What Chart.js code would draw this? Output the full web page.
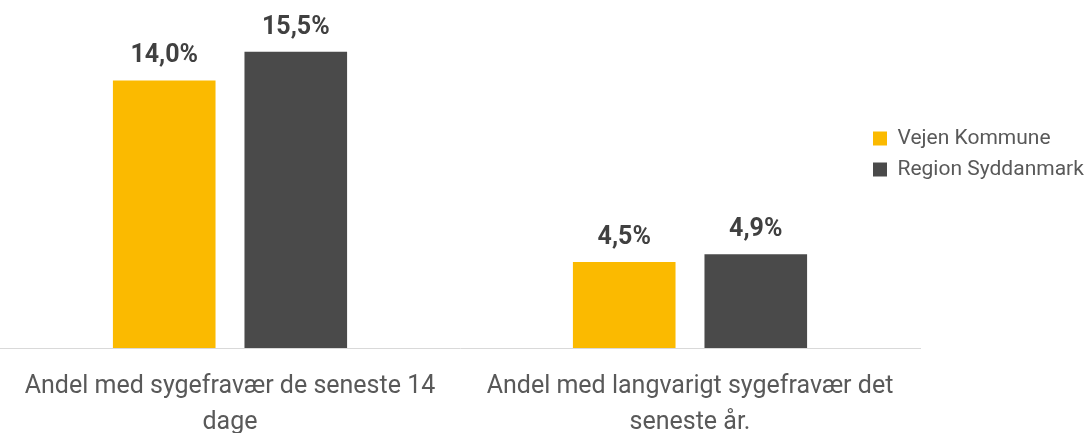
<!DOCTYPE html>
<html>
<head>
<meta charset="utf-8">
<script src="https://cdn.jsdelivr.net/npm/chart.js@4/dist/chart.umd.min.js"></script>
<style>
  html, body { margin: 0; padding: 0; background: #fff; }
  #wrap { width: 1088px; height: 433px; position: relative; }
</style>
</head>
<body>
<div id="wrap"><canvas id="chart"></canvas></div>
<script>
const categories = [
    ['Andel med sygefravær de seneste 14', 'dage'],
    ['Andel med langvarigt sygefravær det', 'seneste år.']
];
const seriesNames = ['Vejen Kommune', 'Region Syddanmark'];
const vejenValues = [14.0, 4.5];
const regionValues = [15.5, 4.9];

const colors = ['#FBBA00', '#4A4A4A'];

// value labels above each bar
const barLabels = {
    id: 'barLabels',
    afterDatasetsDraw(chart) {
        const ctx = chart.ctx;
        ctx.save();
        ctx.font = 'bold 25px Roboto';
        ctx.fillStyle = '#404040';
        ctx.textAlign = 'center';
        ctx.textBaseline = 'alphabetic';
        chart.data.datasets.forEach((ds, i) => {
            chart.getDatasetMeta(i).data.forEach((bar, j) => {
                const txt = ds.data[j].toFixed(1).replace('.', ',') + '%';
                ctx.fillText(txt, bar.x, bar.y - 18);
            });
        });
        ctx.restore();
    }
};

// legend sits partly over the plot, like in the original
const moveLegend = {
    id: 'moveLegend',
    afterLayout(chart) {
        const lg = chart.legend;
        const h = lg.height;
        lg.left = 863; lg.right = 1088;
        lg.top = 118; lg.bottom = lg.top + h;
    }
};

const ctx = document.getElementById('chart').getContext('2d');
new Chart(ctx, {
    type: 'bar',
    data: {
        labels: categories,
        datasets: [
            {
                label: seriesNames[0],
                data: vejenValues,
                backgroundColor: colors[0],
                categoryPercentage: 0.572,
                barPercentage: 0.78
            },
            {
                label: seriesNames[1],
                data: regionValues,
                backgroundColor: colors[1],
                categoryPercentage: 0.572,
                barPercentage: 0.78
            }
        ]
    },
    options: {
        responsive: true,
        maintainAspectRatio: false,
        animation: false,
        layout: { padding: { top: 4, left: -5, right: 0, bottom: 0 } },
        plugins: {
            tooltip: { enabled: false },
            legend: {
                position: 'right',
                align: 'start',
                maxWidth: 168,
                labels: {
                    boxWidth: 14,
                    boxHeight: 14,
                    padding: 10,
                    color: '#595959',
                    font: { family: 'Roboto', size: 21 }
                }
            }
        },
        scales: {
            x: {
                grid: { display: false, drawTicks: false },
                border: { display: true, color: '#D9D9D9', width: 1 },
                ticks: {
                    color: '#595959',
                    padding: 20,
                    maxRotation: 0,
                    autoSkip: false,
                    font: { family: 'Roboto', size: 25, lineHeight: 1.47 }
                },
                afterFit(scale) { scale.height = 85; }
            },
            y: {
                display: false,
                min: 0,
                max: 18
            }
        }
    },
    plugins: [barLabels, moveLegend]
});
</script>
</body>
</html>
